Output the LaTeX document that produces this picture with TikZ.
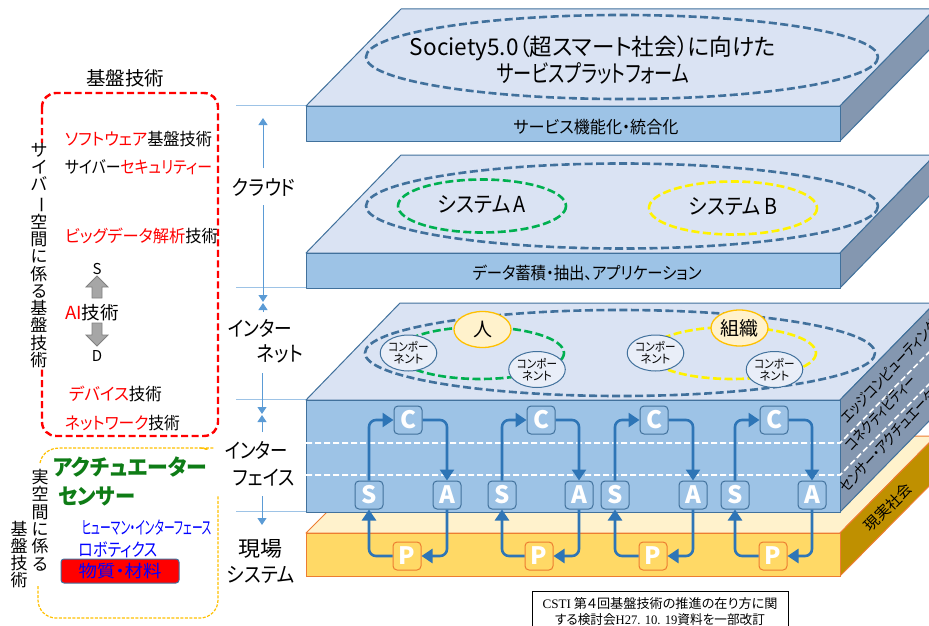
\documentclass[tikz,border=0pt]{standalone}
\usepackage{fontspec}
\usepackage{graphicx}
\usetikzlibrary{arrows.meta,shapes.geometric}
\setmainfont[RawFeature={+palt}]{Noto Sans CJK JP}
\newfontfamily\capserif{Liberation Serif}
\newcommand{\tw}[2]{\resizebox{#1pt}{\height}{#2}}
\newcommand{\fs}[1]{\fontsize{#1}{#1}\selectfont}
\newcommand{\vb}{\rotatebox[origin=c]{-90}{ー}}
\newcommand{\rd}[1]{\textcolor{red}{#1}}
\definecolor{edgeblue}{HTML}{41719C}
\definecolor{topface}{HTML}{DAE3F3}
\definecolor{frontface}{HTML}{9DC3E6}
\definecolor{sideface}{HTML}{8497B0}
\definecolor{flowblue}{HTML}{2E75B6}
\definecolor{dimblue}{HTML}{5B9BD5}
\definecolor{guideblue}{HTML}{9DC3E6}
\definecolor{cream}{HTML}{FFF2CC}
\definecolor{gold}{HTML}{FFD966}
\definecolor{orangeedge}{HTML}{ED7D31}
\definecolor{brownface}{HTML}{BF9000}
\definecolor{amber}{HTML}{FFC000}
\definecolor{capgreen}{HTML}{0E7C16}
\definecolor{sysgreen}{HTML}{00B050}
\tikzset{
  topstyle/.style={fill=topface,draw=edgeblue,line width=1pt,line join=round},
  frontstyle/.style={fill=frontface,draw=edgeblue,line width=1pt,line join=round},
  sidestyle/.style={fill=sideface,draw=edgeblue,line width=1pt,line join=round},
  bigring/.style={draw=edgeblue,line width=2.6pt,dash pattern=on 8pt off 3.5pt},
  greenring/.style={draw=sysgreen,line width=2.6pt,dash pattern=on 8pt off 3.5pt},
  yellowring/.style={draw=yellow,line width=2.6pt,dash pattern=on 8pt off 3.5pt},
  whitedash/.style={draw=white,line width=1.6pt,dash pattern=on 6pt off 3pt},
  cpsbox/.style={draw=edgeblue,fill=frontface,line width=1pt,rounded corners=4pt,minimum width=28pt,minimum height=28pt,inner sep=0pt,text=white,font=\fs{24}\bfseries},
  physbox/.style={cpsbox,draw=orangeedge,fill=gold},
  flow/.style={draw=flowblue,line width=2.6pt,rounded corners=7pt,-{Triangle[length=11pt,width=14pt]}},
  comp/.style={ellipse,draw=edgeblue,fill=topface!60!white,line width=1pt,minimum width=56pt,minimum height=36pt,inner sep=0pt,align=center,font=\fs{12}},
  actor/.style={ellipse,draw=amber,fill=cream,line width=1.3pt,minimum width=57pt,minimum height=36pt,inner sep=0pt,font=\fs{19}},
  dimline/.style={draw=dimblue,line width=1pt,-{Triangle[length=7pt,width=9pt]}},
  guide/.style={draw=guideblue,line width=1pt},
  grayarrow/.style={fill=black!35,draw=black!50,line width=.8pt},
  lbl/.style={inner sep=0pt,outer sep=0pt},
  vtext/.style={inner sep=0pt,fill=white,align=center,font=\fontsize{17}{17.3}\selectfont},
  sidetext/.style={inner sep=0pt,anchor=west,rotate=47,font=\fs{15}},
}
\newcommand{\comptext}{\tw{40}{コンポー}\\\tw{30}{ネント}}
\begin{document}
\begin{tikzpicture}[x=1pt,y=-1pt]
\clip (0,0) rectangle (929,626);
% guides
\draw[guide] (236,105) -- (306,105);
\draw[guide] (236,287) -- (306,287);
\draw[guide] (236,399) -- (306,399);
\draw[guide] (236,511) -- (306,511);
% slab 1
\draw[topstyle] (306,106) -- (401,9) -- (935,9) -- (840,106) -- cycle;
\draw[sidestyle] (840,106) -- (935,9) -- (935,44) -- (840,141) -- cycle;
\draw[frontstyle] (306,106) rectangle (840,141);
\draw[bigring] (622,57) ellipse [x radius=256,y radius=42];
\node[lbl,font=\fs{23}] (soc1) at (593,48) {\tw{366}{Society5.0（超スマート社会）に向けた}};
\node[lbl,font=\fs{24}] (soc2) at (593,73) {\tw{193}{サービスプラットフォーム}};
\node[lbl,font=\fs{17}] (svc) at (596,127) {\tw{165}{サービス機能化・統合化}};
% slab 2
\draw[topstyle] (306,253) -- (401,155) -- (935,155) -- (840,253) -- cycle;
\draw[sidestyle] (840,253) -- (935,155) -- (935,190) -- (840,288) -- cycle;
\draw[frontstyle] (306,253) rectangle (840,288);
\draw[bigring] (622,206) ellipse [x radius=256,y radius=42.5];
\draw[greenring] (482,206) ellipse [x radius=84,y radius=26.5];
\draw[yellowring] (733,208) ellipse [x radius=84,y radius=26.5];
\node[lbl,font=\fs{22}] (sysa) at (482,205) {\tw{88}{システム\,A}};
\node[lbl,font=\fs{22}] (sysb) at (733,207) {\tw{88}{システム\,B}};
\node[lbl,font=\fs{17}] (dat) at (587,273) {\tw{229}{データ蓄積・抽出、アプリケーション}};
% real-world slab
\draw[fill=cream,draw=orangeedge,line width=1pt,line join=round] (306,533) -- (403,436) -- (936,436) -- (840,533) -- cycle;
\draw[fill=brownface,draw=orangeedge,line width=1pt,line join=round] (840,533) -- (936,436) -- (936,479) -- (840,576) -- cycle;
\draw[fill=gold,draw=orangeedge,line width=1pt] (306,533) rectangle (840,576);
\node[lbl,rotate=45,font=\fs{15}] (real) at (888,507) {現実社会};
% slab 3
\draw[topstyle] (306,400) -- (400,303) -- (935,303) -- (840,400) -- cycle;
\draw[sidestyle] (840,400) -- (935,303) -- (935,415) -- (840,512) -- cycle;
\draw[frontstyle] (306,400) rectangle (840,512);
\draw[whitedash] (306,443) -- (840,443) -- (935,346);
\draw[whitedash] (306,475) -- (840,475) -- (935,378);
\node[sidetext] (edge) at (843,421) {\tw{135}{エッジコンピューティング}};
\node[sidetext] (conn) at (848,448) {\tw{96}{コネクティビティー}};
\node[sidetext] (sens) at (842,490) {\tw{145}{センサー・アクチュエーター}};
\draw[bigring] (620,353) ellipse [x radius=255,y radius=43];
\draw[greenring] (480,353) ellipse [x radius=84,y radius=26];
\draw[yellowring] (732,353) ellipse [x radius=84,y radius=26];
\node[actor] (hito) at (482.5,329.5) {人};
\node[actor] (soshiki) at (739.5,328) {組織};
\node[comp] (c1) at (408.5,353) {\comptext};
\node[comp] (c2) at (537,369.5) {\comptext};
\node[comp] (c3) at (655.5,353) {\comptext};
\node[comp] (c4) at (774.5,369.5) {\comptext};
% CPS loops
\foreach \n/\sx/\cx/\ax/\px in {1/369/408/447/407,2/502/541/579/539,3/615/654/693/653,4/735/774/812/773}{
  \node[cpsbox] (S\n) at (\sx,495) {S};
  \node[cpsbox] (C\n) at (\cx,420) {C};
  \node[cpsbox] (A\n) at (\ax,495) {A};
  \node[physbox] (P\n) at (\px,556) {P};
  \draw[flow] (S\n.north) |- (C\n.west);
  \draw[flow] (C\n.east) -| (A\n.north);
  \draw[flow] (A\n.south) |- (P\n.east);
  \draw[flow] (P\n.west) -| (S\n.south);
}
% dimension arrows
\coordinate (d1a) at (263,168); \coordinate (d1b) at (263,118);
\coordinate (d2a) at (263,205); \coordinate (d2b) at (263,302);
\coordinate (d3a) at (263,312); \coordinate (d3b) at (263,303);
\coordinate (d4a) at (262,373); \coordinate (d4b) at (262,414);
\coordinate (d5a) at (262,432); \coordinate (d5b) at (262,415);
\coordinate (d6a) at (262,496); \coordinate (d6b) at (262,525);
\draw[dimline] (d1a) -- (d1b);
\draw[dimline] (d2a) -- (d2b);
\draw[dimline] (d3a) -- (d3b);
\draw[dimline] (d4a) -- (d4b);
\draw[dimline] (d5a) -- (d5b);
\draw[dimline] (d6a) -- (d6b);
% tier labels
\node[lbl,font=\fs{21}] (t1) at (264,187) {\tw{63}{クラウド}};
\node[lbl,font=\fs{21},fill=white] (t2) at (260,328) {\tw{64}{インター}};
\node[lbl,font=\fs{21}] (t3) at (280,354) {\tw{46}{ネット}};
\node[lbl,font=\fs{21}] (t4) at (256.5,450) {\tw{63}{インター}};
\node[lbl,font=\fs{21}] (t5) at (264,478) {\tw{62}{フェイス}};
\node[lbl,font=\fs{21}] (t6) at (260,549) {\tw{44}{現場}};
\node[lbl,font=\fs{21}] (t7) at (261,575) {\tw{68}{システム}};
% cyber box
\node[lbl,font=\fs{19}] (kiban) at (125,78) {\tw{78}{基盤技術}};
\draw[draw=red,line width=2.4pt,dash pattern=on 7pt off 3.5pt,rounded corners=14pt] (42,93) rectangle (218,436);
\node[vtext] (cyberv) at (39,255.5) {サ\\イ\\バ\\\vb\\空\\間\\に\\係\\る\\基\\盤\\技\\術};
\node[lbl,anchor=west,font=\fs{17}] (r1) at (65,139) {\tw{147}{\rd{ソフトウェア}基盤技術}};
\node[lbl,anchor=west,font=\fs{17}] (r2) at (65,167) {\tw{147}{サイバー\rd{セキュリティー}}};
\node[lbl,anchor=west,font=\fs{17}] (r3) at (65,236) {\tw{153}{\rd{ビッグデータ解析}技術}};
\node[lbl,anchor=west,font=\fs{18}] (r4) at (65,313) {\tw{54}{\rd{AI}技術}};
\node[lbl,anchor=west,font=\fs{17}] (r5) at (69,394) {\tw{93}{\rd{デバイス}技術}};
\node[lbl,anchor=west,font=\fs{17}] (r6) at (65,423) {\tw{115}{\rd{ネットワーク}技術}};
\node[lbl,font=\fs{15}] (sl) at (97,269) {S};
\node[lbl,font=\fs{15}] (dl) at (97,356) {D};
\draw[grayarrow] (97,276) -- (108,287) -- (102,287) -- (102,298) -- (92,298) -- (92,287) -- (86,287) -- cycle;
\draw[grayarrow] (97,346) -- (108,335) -- (102,335) -- (102,323) -- (92,323) -- (92,335) -- (86,335) -- cycle;
% physical box
\draw[draw=amber,line width=1.2pt,dash pattern=on 3pt off 1.5pt,rounded corners=18pt] (38,586) -- (38,618) -- (218,618) -- (218,448) -- (214,448);
\draw[draw=amber,line width=1.2pt,dash pattern=on 3pt off 1.5pt] (40,463) .. controls (42,453) and (50,448) .. (60,448) -- (200,448) .. controls (204,448) and (207,449) .. (209,451);
\fill[white] (205,450) rectangle (225,496);
\node[vtext] (realv1) at (40,520) {実\\空\\間\\に\\係\\る};
\node[vtext] (realv2) at (19,554.5) {基\\盤\\技\\術};
\node[lbl,anchor=west,text=capgreen,font=\fs{22}\bfseries] (act) at (53,467) {\tw{154}{アクチュエーター}};
\node[lbl,anchor=west,text=capgreen,font=\fs{22}\bfseries] (sen) at (58,496) {\tw{77}{センサー}};
\node[lbl,anchor=west,text=blue,font=\fs{18}] (hmi) at (82,528) {\tw{130}{ヒューマン・インターフェース}};
\node[lbl,anchor=west,text=blue,font=\fs{18}] (rob) at (79,550) {\tw{79}{ロボティクス}};
\node[draw=edgeblue,fill=red,line width=1pt,rounded corners=3pt,minimum width=118pt,minimum height=24pt,inner sep=0pt,text=blue,font=\fs{17}] (mat) at (120,571) {\tw{83}{物質・材料}};
% caption
\node[draw=black,line width=1.2pt,fill=white,minimum width=256pt,minimum height=50pt,inner sep=0pt,anchor=north west] (capbox) at (532,591) {};
\node[lbl,font=\fs{13}] (cap1) at (660,604) {\tw{235}{{\capserif CSTI} 第４回基盤技術の推進の在り方に関}};
\node[lbl,font=\fs{13}] (cap2) at (660,620) {\tw{210}{する検討会{\capserif H27. 10. 19}資料を一部改訂}};
\end{tikzpicture}
\end{document}
